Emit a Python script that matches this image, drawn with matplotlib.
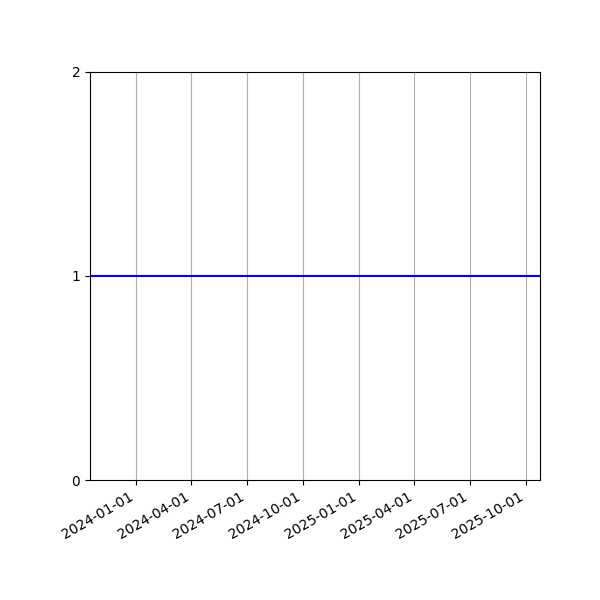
import matplotlib
matplotlib.use("Agg")
import matplotlib.pyplot as plt
import matplotlib.dates as mdates
import numpy as np

dates = np.array(['2023-10-18', '2025-10-24'], dtype='datetime64[D]')
values = [1, 1]
yticks = [0, 1, 2]

fig = plt.figure(figsize=(6, 6), dpi=100)
ax = fig.add_axes([0.15, 0.2, 0.75, 0.68])
ax.plot(dates, values, color='blue', linewidth=1.5)
ax.set_xlim(dates[0], dates[-1])
ax.set_ylim(0, 2)
ax.set_yticks(yticks)
ax.xaxis.set_major_locator(mdates.MonthLocator(bymonth=[1, 4, 7, 10]))
ax.xaxis.set_major_formatter(mdates.DateFormatter('%Y-%m-%d'))
ax.grid(True, axis='x', color='#b0b0b0')
for lbl in ax.get_xticklabels():
    lbl.set_rotation(30)
    lbl.set_ha('right')
fig.savefig('out.png', dpi=100)
